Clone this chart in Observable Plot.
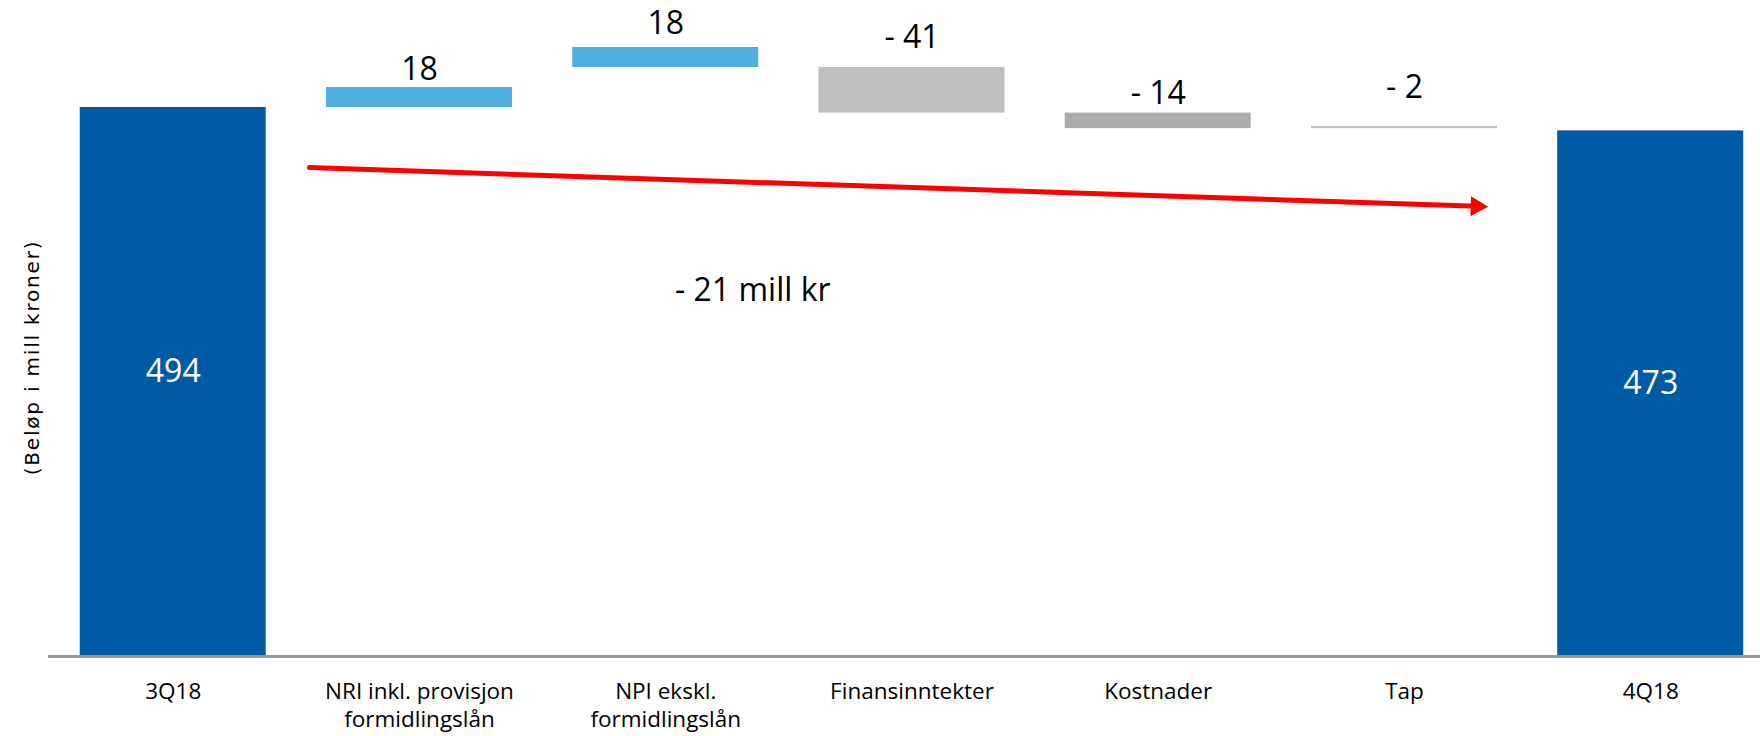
<!DOCTYPE html>
<html><head><meta charset="utf-8">
<script src="https://cdn.jsdelivr.net/npm/d3@7"></script>
<script src="https://cdn.jsdelivr.net/npm/@observablehq/plot@0.6"></script>
<style>
html,body{margin:0;padding:0;background:#fff;}
#chart{width:1760px;height:736px;overflow:hidden}
g[aria-description="ytitle"] text{letter-spacing:1.8px}
</style></head><body><div id="chart"></div>
<script>
// ---- data ----
const categories = ["3Q18", "NRI inkl. provisjon\nformidlingslån", "NPI ekskl.\nformidlingslån", "Finansinntekter", "Kostnader", "Tap", "4Q18"];
const barFrom = [0, 494, 530, 530, 489, 475, 0];
const barTo   = [494, 512, 548, 489, 475, 477, 473];
const valueLabels = ["494", "18", "18", "- 41", "- 14", "- 2", "473"];
const barKind = ["total", "increase", "increase", "decrease", "decrease2", "decrease", "total"];
const labelValues = [247, 519, 560, 548, 497, 503, 236.5];
const trendFrom = ["3Q18", 444];
const trendTo = ["4Q18", 400];
const trendHead = ["4Q18", 405];
const trendLabel = ["- 21 mill kr", 320];
const yTitle = "(Beløp i mill kroner)";

const rows = categories.map((c, i) => ({cat: c, from: barFrom[i], to: barTo[i], kind: barKind[i], label: valueLabels[i], at: labelValues[i]}));

const font = "'Open Sans', 'Noto Sans', sans-serif";

const chart = Plot.plot({
  width: 1760,
  height: 736,
  marginTop: 0,
  marginLeft: 48,
  marginRight: 0,
  marginBottom: 80,
  style: {fontFamily: font, background: "#fff", color: "#000"},
  x: {domain: categories, paddingInner: 0.2447, paddingOuter: 0.0985, align: 0.654, round: false},
  y: {domain: [0, 590.3], axis: null},
  color: {domain: ["total", "increase", "decrease", "decrease2"], range: ["#005BA6", "#4FAFDF", "#BFBFBF", "#ABABAB"]},
  marks: [
    Plot.barY(rows, {x: "cat", y1: "from", y2: "to", fill: "kind"}),
    Plot.ruleY([0], {stroke: "#969696", strokeWidth: 3}),
    Plot.axisX({tickSize: 0, tickPadding: 22, fontSize: 22.5, lineHeight: 1.26, fill: "#000", label: null}),
    Plot.text(rows, {x: "cat", y: "at", text: "label", lineAnchor: "bottom", fontSize: 32,
      fill: d => d.kind === "total" ? "#ffffff" : "#000000"}),
    Plot.arrow([0], {x1: () => trendFrom[0], y1: () => trendFrom[1], x2: () => trendTo[0], y2: () => trendTo[1],
      stroke: "#FF0000", strokeWidth: 5, headLength: 0, insetStart: 136.3, insetEnd: 173}),
    Plot.dot([0], {x: () => trendHead[0], y: () => trendHead[1], symbol: "triangle", r: 7.5, rotate: 91.9,
      fill: "#FF0000", stroke: "none", dx: -174.2}),
    Plot.text([0], {x: () => categories[2], y: () => trendLabel[1], text: () => trendLabel[0], lineAnchor: "bottom",
      fontSize: 32, dx: 87, fill: "#000"}),
    Plot.text([0], {frameAnchor: "left", text: () => yTitle, rotate: -90, textAnchor: "middle", dx: -16, dy: 29,
      fontSize: 20, fontFamily: "'DejaVu Sans', sans-serif", fill: "#000", ariaDescription: "ytitle"})
  ]
});
document.getElementById("chart").appendChild(chart);
</script>
</body></html>
